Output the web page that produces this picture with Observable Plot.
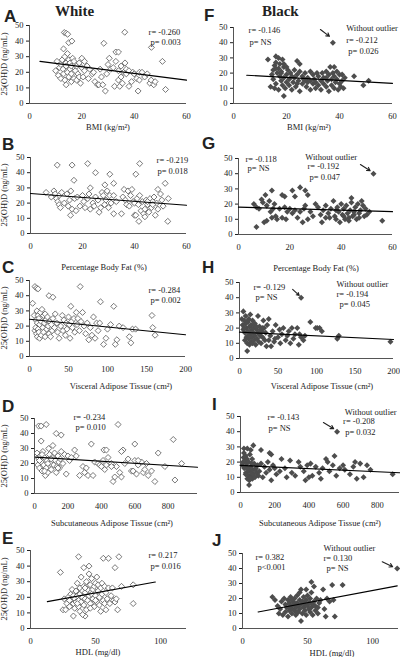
<!DOCTYPE html>
<html><head><meta charset="utf-8">
<script src="https://cdn.jsdelivr.net/npm/d3@7"></script>
<script src="https://cdn.jsdelivr.net/npm/@observablehq/plot@0.6"></script>
<style>
body{margin:0;background:#fff;}
#fig{position:relative;width:400px;height:657px;overflow:hidden;font-family:"Liberation Serif","Times New Roman",serif;color:#222;}
.lbl{position:absolute;font-size:8.5px;white-space:nowrap;transform:translate(-50%,-50%);line-height:1;}
.letter{position:absolute;font-family:"Liberation Sans",Arial,sans-serif;font-weight:bold;font-size:17px;line-height:1;transform:translateY(-50%);}
.grp{position:absolute;font-weight:bold;font-size:15px;line-height:1;transform:translateY(-50%);}
.ylab{position:absolute;font-size:8.5px;white-space:nowrap;line-height:1;transform:translate(-50%,-50%) rotate(-90deg);}
.pn{position:absolute;}
</style></head><body><div id="fig"></div><script>
// ---------- data: [x, 25(OH)D ng/mL] ----------
const bmiWhite = [[13.3,45.5],[14,45],[14.6,44.4],[15,39],[16.2,40],[28.4,38.6],[36.4,45.7],[46.6,36],[50.8,27],[33,33],[34,33],
[10,21],[10.5,27],[11,18],[11.5,23],[12,25],[12,16],[12.5,28],[12.8,22],[13,35],[13,19],[13.5,30],[13.5,15],[14,26],[14,24],[14,12],[14.5,32],[14.5,20],[15,28],[15,17],[15.5,22],[15.5,26],[16,14],[16,24],[16,19],[16.5,29],[17,16],[17,27],[17.5,21],[18,24],[18,15],[18.5,19],[19,26],[19,17],[19.5,13],[20,29],[20,23],[20.5,17],[21,27],[21,21],[22,24],[22.5,16],[23,22],[24,19],[24.5,20],[25,14],[26,12],[26.5,12],[27,22],[27.5,17],[28,12],[29,8],[29.5,19],[30,25],[30.5,29],[31,22],[32,23],[32.5,11],[33,27],[34,21],[34,15],[34.5,11],[35,17],[35,24],[35.5,13],[36,20],[36.5,26],[37,22],[37,19],[38,21],[38,11],[39,14],[39.5,20],[40,19],[41,16],[41.5,8],[42,20],[42,15],[43,20],[44,17],[45,19],[46,13],[46.5,15],[47.5,12],[48,14],[52,9]];
const bmiBlack = [[37.5,40],[19,5],[16,31],[17,30],[13,29],[24,28],[25,26],[45.5,18],[49,12],[51,15],[38,24],
[14,11],[14.5,19],[15,22],[15,16],[15.5,25],[15.5,10],[16,27],[16,13],[16.5,20],[17,23],[17,9],[17.5,18],[17.5,26],[18,15],[18,21],[18.5,12],[18.5,29],[19,17],[19,24],[19.5,10],[20,19],[20,14],[20.5,22],[21,16],[21,12],[21.5,20],[22,18],[22,9],[22.5,14],[23,22],[23,17],[23.5,11],[24,19],[24.5,15],[25,8],[25,21],[26,13],[26,18],[26.5,16],[27,20],[27.5,11],[28,14],[28,17],[29,9],[29,21],[30,13],[30,19],[30.5,16],[31,10],[31.5,20],[32,12],[32,18],[33,15],[33,9],[33.5,20],[34,13],[34,17],[35,11],[35,21],[35.5,15],[36,19],[36,8],[36.5,24],[37,16],[37,12],[37.5,20],[38,10],[38,18],[38.5,14],[39,21],[39,16],[39.5,9],[40,19],[40,13],[40.5,11],[41,19],[41,15],[41.5,10],[42,17],[19,26],[20,24],[16,23],[18,20],[24,13],[27,15],[29,15],[31,14],[35,17]];
const fatWhite = [[10.3,45],[16,45],[22,46],[42,46],[16.7,35],[25,40],[40.5,39],[30.5,39],[32,33],[23,30],[28.6,32],[51.8,33],[52.8,8],[41.7,8],[40,12],[26.4,14],[32,13],[15.4,12],
[6,27],[8,24],[9,28],[9.5,26],[10,23],[10.5,21],[11,19],[11,25],[11.5,17],[12,27],[13,20],[14,26],[14.5,18],[15,22],[15.5,28],[16,16],[17,23],[17.5,15],[18,24],[19,18],[20,25],[20.5,21],[21,17],[22,23],[22.5,26],[23,16],[24,20],[24.5,18],[25,24],[26,22],[27,17],[27.5,27],[28,25],[28.5,19],[29,22],[29.5,28],[30,17],[30.5,25],[31,20],[32,25],[33,21],[35,13],[35.5,24],[36,29],[36.5,22],[37,19],[37.5,28],[38,18],[38.5,25],[39,29],[39.5,21],[40,20],[40.5,12],[41,23],[41.5,19],[42,25],[42.5,15],[43,21],[43.5,13],[44,11],[44.5,22],[45,19],[45.5,14],[46,23],[46.5,17],[47,21],[47.5,24],[48,12],[48.5,20],[49,16],[49,29],[50,26],[50.5,22],[51,18],[53,23],[47,19],[45,21],[44,16]];
const fatBlack = [[52.6,40],[56,9],[7,5],[24,31],[26,29],[13,29],[21,29],[17,26],[18,25],[27,26],[22,25],
[6,20],[7,18],[8,17],[9,23],[9.5,21],[10,8],[10.5,26],[11,19],[11,9],[12,22],[12.5,15],[13,11],[13.5,17],[14,20],[14.5,12],[15,10],[16,17],[17,11],[18,18],[18.5,10],[19,15],[20,17],[21,14],[22,16],[23,11],[24,15],[25,8],[25.5,17],[26,19],[27,10],[28,15],[29,12],[30,20],[31,18],[32,13],[32.5,8],[33,16],[34,19],[35,14],[35.5,11],[36,17],[37,22],[37.5,12],[38,10],[38.5,18],[39,15],[39.5,8],[40,20],[40.5,13],[41,17],[41.5,10],[42,19],[42.5,14],[43,11],[43.5,16],[44,24],[44,21],[44.5,12],[45,15],[45.5,18],[46,10],[46.5,20],[47,14],[47.5,16],[48,22],[48.5,19],[49,12],[49.5,17],[50,13],[51,15],[43,9],[45,13],[41,12],[38,16],[34,11],[47,11]];
const vatWhite = [[7,46],[9,45],[11,44.5],[65,46],[25,40],[30,39],[4,35],[91,36],[108,33],[157,27],[158,19],[161,14],[95,8],[110,8],[130,9],
[6,27],[7,17],[8,24],[8,19],[9,15],[9.5,30],[10,22],[10,13],[11,27],[11,18],[12,25],[12,16],[13,12],[13,21],[14,29],[15,23],[15,14],[16,31],[17,19],[18,27],[18,16],[19,22],[20,28],[20,13],[21,24],[22,18],[23,26],[24,20],[25,15],[26,23],[27,13],[28,21],[29,17],[30,25],[32,19],[33,28],[35,22],[36,16],[38,12],[40,20],[42,27],[43,17],[44,24],[46,14],[47,22],[48,18],[50,26],[51,21],[52,12],[53,33],[54,23],[55,19],[57,25],[58,16],[60,29],[61,21],[62,25],[64,17],[66,23],[68,29],[70,20],[72,15],[74,22],[76,11],[78,19],[80,14],[82,26],[84,12],[86,22],[88,17],[90,22],[98,12],[100,18],[104,21],[112,11],[115,20],[120,19],[128,13],[132,18],[136,18]];
const vatBlack = [[80,40],[196,11],[129,15],[127,13],[99,20],[101,20],[104,20],[92,24],[107,18],[83,12],[80,14],
[3,26],[4,22],[5,19],[5,31],[6,25],[7,17],[7,12],[8,23],[8,28],[9,20],[9,14],[10,5],[10,10],[11,24],[11,18],[12,26],[12,13],[13,21],[13,9],[14,16],[14,29],[15,22],[15,11],[16,19],[16,14],[17,25],[17,10],[18,20],[18,17],[19,12],[20,23],[20,15],[21,9],[22,19],[23,13],[24,28],[24,17],[25,11],[26,21],[27,15],[28,10],[29,18],[30,14],[31,25],[32,20],[33,12],[34,17],[35,8],[36,22],[38,26],[40,15],[41,8],[43,18],[45,11],[47,22],[50,14],[52,19],[53,10],[55,16],[57,20],[60,12],[62,15],[64,18],[66,10],[68,20],[70,13],[72,16],[75,20],[77,9],[78,16],[85,15],[46,13],[38,12],[27,19],[19,22],[6,20],[9,24],[15,17],[22,21],[26,16],[30,20],[11,15]];
const satWhite = [[25,45],[40,45],[70,46],[500,46],[830,36],[130,40],[160,39],[40,35],[340,33],[600,33],[470,8],[720,8],[840,9],[740,27],[780,18],[880,20],[415,29],[430,29],[530,29],
[15,27],[20,19],[25,23],[30,17],[35,25],[40,21],[45,15],[50,28],[55,19],[60,24],[65,12],[70,17],[75,22],[80,14],[85,30],[90,26],[95,20],[100,16],[105,24],[110,32],[115,19],[120,27],[125,22],[130,14],[135,18],[140,25],[145,21],[150,17],[155,23],[160,28],[170,20],[180,26],[190,13],[200,25],[210,22],[220,24],[240,29],[250,25],[270,12],[290,18],[300,14],[310,17],[320,12],[350,12],[360,21],[380,20],[390,19],[400,18],[410,22],[420,16],[430,19],[440,24],[460,20],[480,11],[490,18],[510,14],[520,11],[540,20],[560,23],[580,15],[600,22],[610,13],[620,19],[640,21],[650,14],[660,16],[670,20],[680,12],[700,15],[620,22],[60,15],[80,20],[100,23],[140,17],[45,26],[30,22],[520,28],[460,18],[590,15]];
const satBlack = [[565,40],[890,12],[50,5],[20,29],[75,31],[60,28],[40,29],[120,28],[170,26],[180,25],
[10,18],[15,20],[18,23],[20,26],[22,16],[25,21],[28,17],[30,24],[32,13],[35,19],[38,22],[40,9],[42,16],[45,11],[48,20],[50,14],[52,8],[55,25],[58,11],[60,17],[62,10],[65,13],[68,22],[70,9],[72,15],[75,12],[80,19],[85,10],[90,16],[95,13],[100,18],[110,14],[120,19],[130,10],[140,17],[150,13],[160,20],[170,15],[180,8],[190,18],[200,16],[210,12],[230,14],[240,22],[260,16],[270,10],[290,21],[300,13],[320,11],[340,20],[350,17],[370,14],[390,18],[400,10],[410,19],[420,11],[440,17],[460,13],[470,9],[480,16],[500,22],[510,20],[520,14],[540,18],[550,24],[560,11],[580,16],[600,18],[610,15],[640,12],[660,17],[670,20],[680,9],[700,19],[720,10],[740,18],[760,15],[30,12],[45,15],[55,9],[65,19],[85,15],[105,11],[380,8]];
const hdlWhite = [[37,46],[56,45],[60,45],[68,46],[23,36],[41,39],[45,40],[65,39],[79,16],[79,28],[70,27],[67,12],[58,12],[33,8],[42,8],[40,9],
[25,12],[26,19],[27,12],[28,16],[29,20],[30,14],[31,22],[31,18],[32,25],[33,16],[33,21],[34,13],[34,19],[35,24],[35,17],[36,29],[36,21],[37,14],[37,18],[38,26],[38,11],[38,22],[39,17],[39,33],[40,20],[40,24],[41,15],[41,27],[42,19],[42,23],[43,12],[43,30],[44,18],[44,25],[45,21],[45,35],[46,16],[46,28],[47,22],[47,32],[48,19],[48,25],[49,14],[49,27],[50,21],[50,29],[51,17],[51,33],[52,24],[52,28],[53,15],[53,20],[54,26],[54,11],[55,22],[55,29],[56,18],[57,27],[57,16],[58,23],[59,19],[60,26],[61,16],[62,21],[63,26],[64,18],[65,17],[66,19],[46,13],[42,26],[36,16],[50,18],[30,18]];
const hdlBlack = [[119,40],[53,31],[55,28],[49,26],[65,20],[69,29],[77,29],[70,19],[71,8],[64,8],[45,5],
[23,21],[25,19],[27,15],[28,10],[29,13],[30,18],[31,9],[32,20],[33,11],[33,16],[34,14],[35,19],[35,8],[36,12],[36,17],[37,15],[37,21],[38,10],[38,13],[39,18],[39,16],[40,12],[40,20],[41,14],[41,9],[42,17],[42,22],[43,11],[43,15],[44,19],[44,13],[45,16],[45,26],[46,10],[46,18],[47,14],[47,21],[48,12],[48,16],[49,19],[49,9],[50,15],[50,22],[51,13],[51,17],[52,20],[52,11],[53,14],[53,24],[54,16],[54,9],[55,18],[56,12],[56,15],[57,20],[58,14],[59,17],[60,19],[62,26],[63,13],[67,18],[44,24],[38,19],[42,11],[47,17],[52,17],[40,16],[36,14],[58,10]];

// trend lines (endpoints)
const trendA = [[4,27],[60,15]];
const trendB = [[0,26.3],[60,18.6]];
const trendC = [[0,24.5],[200,14.3]];
const trendD = [[5,24.2],[975,17.5]];
const trendE = [[13,17.2],[96,29.8]];
const trendF = [[5,18.6],[60,13.3]];
const trendG = [[0,18],[60,15]];
const trendH = [[0,17.3],[200,12.5]];
const trendI = [[0,17.8],[930,13]];
const trendJ = [[12,11],[119,28.4]];

// statistics text [x, y, label]
const notesA = [[45.5,45.5,"r= -0.260"],[46.2,39.1,"p= 0.003"]];
const notesB = [[48.5,48,"r= -0.219"],[48.8,40.8,"p= 0.018"]];
const notesC = [[152.6,43.4,"r= -0.284"],[155,36.8,"p= 0.002"]];
const notesD = [[233,50.7,"r= -0.234"],[245,44,"p= 0.010"]];
const notesE = [[90.8,46.8,"r= 0.217"],[92.3,39.7,"p= 0.016"]];
const notesF = [[5.7,48,"r= -0.146"],[6,40,"p= NS"],[42.5,49.3,"Without outlier"],[42.5,41.4,"r= -0.212"],[43.3,34.2,"p= 0.026"]];
const notesG = [[2.7,49.3,"r= -0.118"],[3.5,43.4,"p= NS"],[26,50.6,"Without outlier"],[26.9,44.7,"r= -0.192"],[27.7,37.5,"p= 0.047"]];
const notesH = [[18.2,46.7,"r= -0.129"],[20.8,40,"p= NS"],[126,48.7,"Without outlier"],[126,42,"r= -0.194"],[130,35.5,"p= 0.045"]];
const notesI = [[158,49.3,"r= -0.143"],[164,42,"p= NS"],[610,52.6,"Without outlier"],[600,46.7,"r= -0.208"],[612,39.5,"p= 0.032"]];
const notesJ = [[10,47.3,"r= 0.382"],[11.5,40.7,"p<0.001"],[62.3,53.3,"Without outlier"],[62.3,46.7,"r= 0.130"],[64.6,40,"p= NS"]];

// outlier arrows [x1,y1,x2,y2]
const arrowF = [[32.8,48.7,36.2,44.2]];
const arrowG = [[47.5,46,51.3,42]];
const arrowH = [[69,45.5,77.5,41.5]];
const arrowI = [[485,46,545,42]];
const arrowJ = [[107.5,44.5,115.5,41.2]];

const yTicks = [0,10,20,30,40,50];
const xTicks60 = [0,20,40,60], xTicks200 = [0,50,100,150,200], xTicks800 = [0,200,400,600,800], xTicks100 = [0,50,100];

// ---------- layout ----------
const panels = [
 {id:"A", col:0, pts:bmiWhite, fill:"white", trend:trendA, notes:notesA, arrows:[], xd:[0,60], xt:xTicks60, x0:29, x1:186, yt:25, yb:103, title:"BMI (kg/m²)", tx:108, ty:127, lx:4, ly:16},
 {id:"B", col:0, pts:fatWhite, fill:"white", trend:trendB, notes:notesB, arrows:[], xd:[0,60], xt:xTicks60, x0:30, x1:186, yt:157, yb:233, title:"Percentage Body Fat (%)", tx:104, ty:267, lx:2, ly:144},
 {id:"C", col:0, pts:vatWhite, fill:"white", trend:trendC, notes:notesC, arrows:[], xd:[0,200], xt:xTicks200, x0:29, x1:185, yt:280, yb:356, title:"Visceral Adipose Tissue (cm²)", tx:121, ty:386, lx:2, ly:267},
 {id:"D", col:0, pts:satWhite, fill:"white", trend:trendD, notes:notesD, arrows:[], xd:[0,975], xt:xTicks800, x0:34, x1:197, yt:418, yb:493, title:"Subcutaneous Adipose Tissue (cm²)", tx:112, ty:523, lx:2, ly:406},
 {id:"E", col:0, pts:hdlWhite, fill:"white", trend:trendE, notes:notesE, arrows:[], xd:[0,120], xt:xTicks100, x0:30, x1:186, yt:550, yb:628, title:"HDL (mg/dl)", tx:98, ty:652, lx:2, ly:538},
 {id:"F", col:1, pts:bmiBlack, fill:"#4d4d4d", trend:trendF, notes:notesF, arrows:arrowF, xd:[0,60], xt:xTicks60, x0:233, x1:392, yt:27, yb:103, title:"BMI (kg/m²)", tx:309, ty:127, lx:204, ly:15},
 {id:"G", col:1, pts:fatBlack, fill:"#4d4d4d", trend:trendG, notes:notesG, arrows:arrowG, xd:[0,60], xt:xTicks60, x0:238, x1:392, yt:158, yb:234, title:"Percentage Body Fat (%)", tx:316, ty:268, lx:202, ly:143},
 {id:"H", col:1, pts:vatBlack, fill:"#4d4d4d", trend:trendH, notes:notesH, arrows:arrowH, xd:[0,200], xt:xTicks200, x0:239, x1:393, yt:282, yb:358, title:"Visceral Adipose Tissue (cm²)", tx:322, ty:386, lx:202, ly:267},
 {id:"I", col:1, pts:satBlack, fill:"#4d4d4d", trend:trendI, notes:notesI, arrows:arrowI, xd:[0,930], xt:xTicks800, x0:240, x1:399, yt:416, yb:492, title:"Subcutaneous Adipose Tissue (cm²)", tx:320, ty:523, lx:212, ly:404},
 {id:"J", col:1, pts:hdlBlack, fill:"#4d4d4d", trend:trendJ, notes:notesJ, arrows:arrowJ, xd:[0,120], xt:xTicks100, x0:242, x1:398, yt:553, yb:628, title:"HDL (mg/dl)", tx:332, ty:653, lx:212, ly:540}
];

const diamond = {draw(ctx, size){const r = Math.sqrt(size/2); ctx.moveTo(0,-r); ctx.lineTo(r,0); ctx.lineTo(0,r); ctx.lineTo(-r,0); ctx.closePath();}};
const fig = document.getElementById("fig");
function addDiv(cls, text, x, y){const d=document.createElement("div"); d.className=cls; d.textContent=text; d.style.left=x+"px"; d.style.top=y+"px"; fig.appendChild(d); return d;}

const mT = 12, mB = 24;
for (const p of panels) {
  const left = p.col*200;
  const mL = p.x0 - left, mR = left + 200 - p.x1;
  const h = (p.yb - p.yt) + mT + mB;
  const open = p.fill === "white";
  const svg = Plot.plot({
    width: 200, height: h,
    marginLeft: mL, marginRight: mR, marginTop: mT, marginBottom: mB,
    style: {fontFamily: '"Liberation Serif","Times New Roman",serif', fontSize: "8.5px", color: "#222", background: "transparent", overflow: "visible"},
    x: {domain: p.xd, ticks: p.xt, tickSize: 0, tickPadding: 9, label: null},
    y: {domain: [0,50], ticks: yTicks, tickSize: 3, tickPadding: 3, label: null},
    marks: [
      Plot.ruleX([p.xd[0]], {stroke: "#555"}),
      Plot.ruleY([0], {stroke: "#555"}),
      Plot.dot(p.pts, {x: d => d[0], y: d => d[1], symbol: diamond, r: 2.4,
        fill: p.fill, stroke: open ? "#555" : "none", strokeWidth: 0.8}),
      Plot.line(p.trend, {x: d => d[0], y: d => d[1], stroke: "#000", strokeWidth: 1.2}),
      Plot.text(p.notes, {x: d => d[0], y: d => d[1], text: d => d[2], textAnchor: "start", fontSize: 8.5, fill: "#222"}),
      Plot.arrow(p.arrows, {x1: d => d[0], y1: d => d[1], x2: d => d[2], y2: d => d[3], stroke: "#222", strokeWidth: 1.1, headLength: 5})
    ]
  });
  const holder = document.createElement("div");
  holder.className = "pn";
  holder.style.left = left + "px";
  holder.style.top = (p.yt - mT) + "px";
  holder.appendChild(svg);
  fig.appendChild(holder);
  addDiv("letter", p.id, p.lx, p.ly);
  addDiv("lbl", p.title, p.tx, p.ty);
  addDiv("ylab", "25(OH)D (ng/mL)", left + (p.col ? 207 : 4), (p.yt + p.yb)/2);
}
addDiv("grp", "White", 55, 11);
addDiv("grp", "Black", 262, 11);
</script></body></html>
